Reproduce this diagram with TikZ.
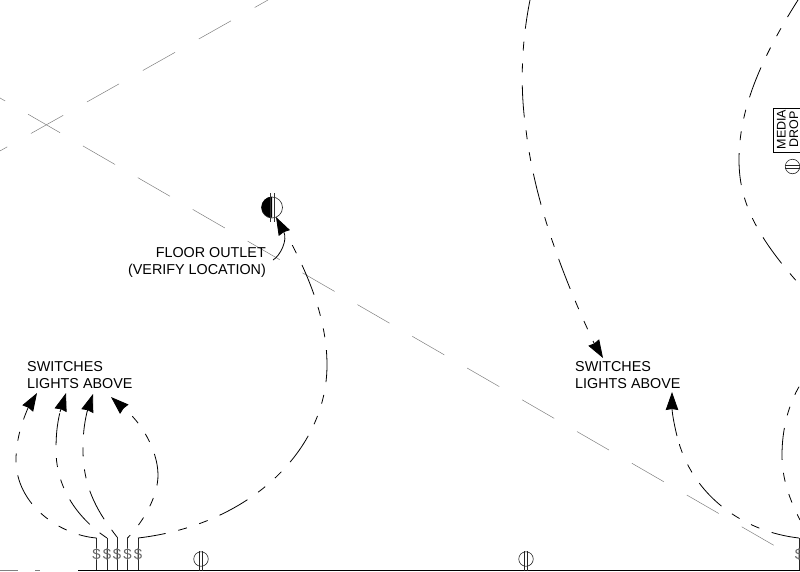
\documentclass[tikz,border=0pt]{standalone}
\usepackage{fontspec}
\setmainfont{Liberation Sans}
\usetikzlibrary{arrows.meta}
\tikzset{x=1pt,y=-1pt,>={Stealth[length=18pt,width=12.5pt,inset=1pt]},
  circuit/.style={draw=black,line width=.8pt,dash pattern=on 32pt off 13pt on 9pt off 13pt on 9pt off 13pt},
  lead/.style={draw=black,line width=.8pt,->},
  gridline/.style={draw=black!50,line width=.5pt,dash pattern=on 37pt off 26.4pt},
  note/.style={font=\fontsize{14.35}{17}\selectfont,align=left,inner sep=0pt},
  dollar/.style={font=\fontsize{15}{15}\selectfont,inner sep=0pt,text=black!60},
  outlet/.style={circle,draw=black!85,line width=.6pt,minimum size=14.5pt,inner sep=0pt}}

\begin{document}
\begin{tikzpicture}
  \useasboundingbox (0,0) rectangle (800,571);

  % column lines
  \coordinate (gridAa) at (-25,165);
  \coordinate (gridAb) at (268,0);
  \coordinate (gridBa) at (-26.8,82.5);
  \coordinate (gridBb) at (775,546);
  \path[gridline,dash pattern=on 37pt off 27.2pt] (gridAa) -- (gridAb);
  \path[gridline] (gridBa) -- (gridBb);

  % wall
  \coordinate (wallA) at (78,570.5);
  \coordinate (wallB) at (800,570.5);
  \draw[line width=1.5pt] (wallA) -- (wallB);
  \coordinate (wallC) at (0,570.5);
  \coordinate (wallD) at (18,570.5);
  \coordinate (wallE) at (35,570.5);
  \coordinate (wallF) at (40,570.5);
  \draw[black!50,line width=.8pt] (wallC) -- (wallD) (wallE) -- (wallF);

  % switches
  \foreach \n/\x/\y in {1/96.5/538,2/107/538,3/117/537,4/127.5/538,5/138/538,6/799/538}{
    \coordinate (top\n) at (\x,\y);
    \coordinate (foot\n) at (\x,570);
    \draw[line width=.6pt,black!85] (top\n) -- (foot\n);
    \node[dollar] (sw\n) at (\x,554) {\$};
  }

  % receptacles
  \node[outlet] (recA) at (201,559) {};
  \node[outlet] (recB) at (526,559) {};
  \node[outlet] (recC) at (792.5,166.5) {};
  \foreach \r in {recA,recB}{
    \draw[line width=.5pt,black!85] ([xshift=-1.5pt]\r.north) -- ([xshift=-1.5pt]\r.south |- wallB);
    \draw[line width=.5pt,black!85] ([xshift=1.5pt]\r.north) -- ([xshift=1.5pt]\r.south |- wallB);
  }
  \draw[line width=.5pt,black!85] ([yshift=-1.5pt]recC.west) -- ([yshift=-1.5pt]recC.east);
  \draw[line width=.5pt,black!85] ([yshift=1.5pt]recC.west) -- ([yshift=1.5pt]recC.east);

  % floor outlet
  \node[circle,draw=black!85,line width=.6pt,minimum size=21pt,inner sep=0pt] (floor) at (272,207.5) {};
  \fill (floor.north) arc[start angle=90,end angle=270,radius=10.5pt] -- cycle;
  \coordinate (tickA) at (270.5,193);
  \coordinate (tickB) at (270.5,222);
  \coordinate (tickC) at (274,193);
  \coordinate (tickD) at (274,222);
  \draw[line width=.5pt,black!80] (tickA) -- (tickB) (tickC) -- (tickD);

  % media drop
  \node[draw=black,line width=.7pt,minimum width=30pt,minimum height=44pt,inner sep=0pt] (media) at (788,130) {};
  \node[font=\fontsize{12.5}{12.5}\selectfont,align=center,rotate=90,inner sep=0pt] (mediatext) at (787.5,129.5) {MEDIA\\DROP};

  % labels
  \node[note,anchor=north west] (swA) at (27,361) {SWITCHES\\LIGHTS ABOVE};
  \node[note,anchor=north west] (swB) at (575,361) {SWITCHES\\LIGHTS ABOVE};
  \node[note,align=right,anchor=north east] (outletnote) at (266,247.5) {FLOOR OUTLET\\(VERIFY LOCATION)};

  % home runs
  \coordinate (tipA) at (37,393);
  \coordinate (tipB) at (66,393);
  \coordinate (tipC) at (93,394);
  \coordinate (tipD) at (111,397);
  \coordinate (tipF) at (603,358);
  \coordinate (tipG) at (672,392);
  \coordinate (tipH) at (276,217);
  \coordinate (leadH) at (273,260);

  \path[circuit,dash phase=14pt] (top1) .. controls (60,535) and (16,505) .. (16,460) .. controls (16,440) and (22,422) .. (28,408);
  \draw[lead] (28,408) -- (tipA);
  \path[circuit,dash phase=67pt] (top2) .. controls (80,520) and (56,490) .. (56,450) .. controls (56,435) and (57,425) .. (60,412);
  \draw[lead] (60,412) -- (tipB);
  \path[circuit,dash phase=67pt] (top3) .. controls (100,515) and (83,490) .. (83,450) .. controls (83,435) and (84,425) .. (87,412);
  \draw[lead] (87,412) -- (tipC);
  \path[circuit,dash phase=28pt] (top4) .. controls (145,520) and (158,495) .. (158,475) .. controls (158,450) and (140,420) .. (123,408);
  \draw[lead] (123,408) -- (tipD);
  \path[circuit,dash phase=4pt] (top5) .. controls (250,525) and (327,450) .. (327,365) .. controls (327,310) and (300,260) .. (287,235);
  \path[circuit,dash phase=3pt] (530,0) .. controls (521,45) and (520,90) .. (526,130) .. controls (533,190) and (555,260) .. (594,343);
  \draw[lead] (594,343) -- (tipF);
  \path[circuit,dash phase=4pt] (top6) .. controls (745,532) and (692,497) .. (677,436);
  \draw[lead] (677,436) .. controls (673,420) and (672,410) .. (tipG);
  \draw[lead] (leadH) .. controls (280,256) and (288,240) .. (tipH);

  % room circuits at the edge
  \path[circuit,dash phase=12pt] (798,0) .. controls (760,60) and (739,110) .. (739,160) .. controls (739,200) and (755,235) .. (800,285);
  \path[circuit,dash phase=43pt] (800,385) .. controls (788,405) and (782,430) .. (782,455) .. controls (782,480) and (790,500) .. (800,520);
\end{tikzpicture}
\end{document}
